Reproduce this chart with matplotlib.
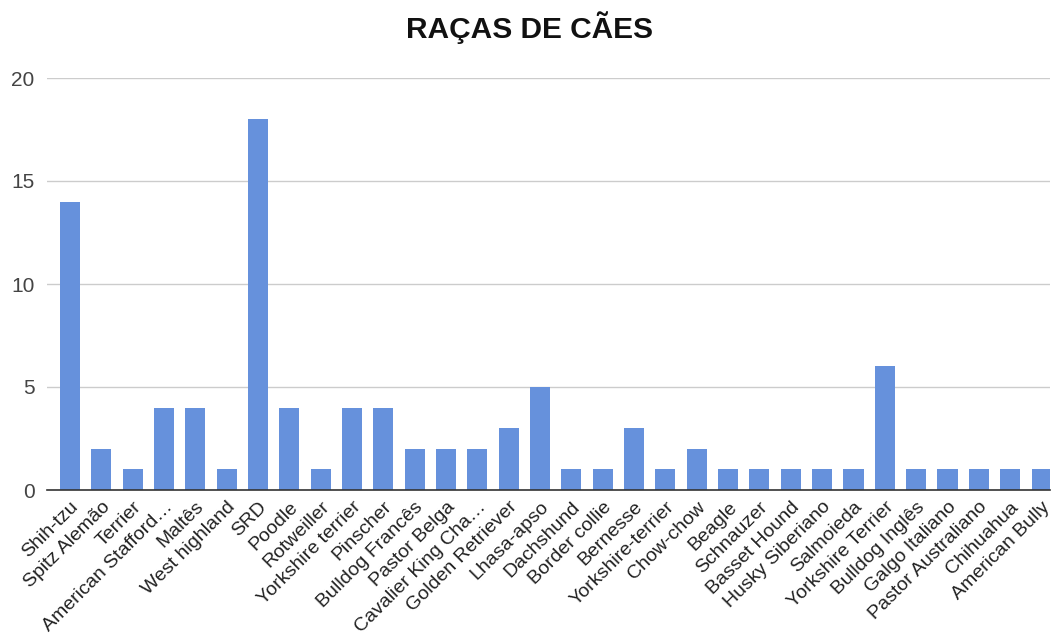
import matplotlib
matplotlib.use("Agg")
import matplotlib.pyplot as plt

categories = ["Shih-tzu", "Spitz Alemão", "Terrier", "American Stafford…", "Maltês",
              "West highland", "SRD", "Poodle", "Rotweiller", "Yorkshire terrier",
              "Pinscher", "Bulldog Francês", "Pastor Belga", "Cavalier King Cha…",
              "Golden Retriever", "Lhasa-apso", "Dachshund", "Border collie", "Bernesse",
              "Yorkshire-terrier", "Chow-chow", "Beagle", "Schnauzer", "Basset Hound",
              "Husky Siberiano", "Salmoieda", "Yorkshire Terrier", "Bulldog Inglês",
              "Galgo Italiano", "Pastor Australiano", "Chihuahua", "American Bully"]
values = [14, 2, 1, 4, 4, 1, 18, 4, 1, 4, 4, 2, 2, 2, 3, 5, 1, 1, 3, 1, 2, 1, 1, 1, 1, 1,
          6, 1, 1, 1, 1, 1]
yticks = [0, 5, 10, 15, 20]
title = "RAÇAS DE CÃES"

plt.rcParams['font.family'] = ['Liberation Sans', 'DejaVu Sans']

fig = plt.figure(figsize=(10.53, 6.42), dpi=100)
ax = fig.add_axes([47/1053, 1-490/642, (1050-47)/1053, (490-78)/642])
x = list(range(len(categories)))
ax.bar(x, values, width=0.64, color='#6691dc', zorder=3)
ax.set_xlim(-0.73, 31.27)
ax.set_ylim(0, 20)
ax.set_yticks(yticks)
ax.set_yticklabels([str(v) for v in yticks], fontsize=15, color='#444444')
ax.set_xticks(x)
ax.set_xticklabels(categories, rotation=45, ha='right', rotation_mode='anchor',
                   fontsize=14, color='#222222')
ax.tick_params(axis='both', length=0)
ax.tick_params(axis='y', pad=9)
ax.tick_params(axis='x', pad=6)
ax.grid(axis='y', color='#cccccc', linewidth=1, zorder=0)
for s in ['top', 'right', 'left']:
    ax.spines[s].set_visible(False)
ax.spines['bottom'].set_color('#333333')
ax.spines['bottom'].set_linewidth(1.2)
ax.spines['bottom'].set_zorder(4)
fig.text(530/1053, 1-28/642, title, ha='center', va='center', fontsize=21.5,
         fontweight='bold', color='#111111')
fig.savefig("out.png", dpi=100, facecolor='white')
